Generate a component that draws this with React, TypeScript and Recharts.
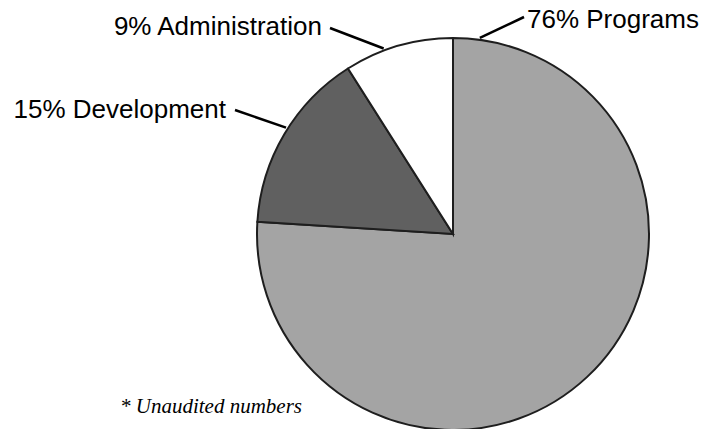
import React from 'react';
import { PieChart, Pie, Cell } from 'recharts';

const categories = ['Programs', 'Development', 'Administration'];
const shares = [76, 15, 9];
const colors = ['#a4a4a4', '#606060', '#ffffff'];

const footnote = '* Unaudited numbers';

const data = categories.map((name, i) => ({ name, value: shares[i] }));

// where each label's leader line touches the pie (deg clockwise from 12 o'clock),
// where the line ends and where the text sits
const labelLayout: Record<string, any> = {
  Programs: { angle: 7.8, end: [524, 17], tx: 527, ty: 28, anchor: 'start' },
  Development: { angle: -57.5, end: [235, 110], tx: 226, ty: 118, anchor: 'end' },
  Administration: { angle: -20.5, end: [330, 28], tx: 322, ty: 35, anchor: 'end' },
};

function renderLabel({ cx, cy, outerRadius, name, value }: any) {
  const l = labelLayout[name];
  const rad = (l.angle * Math.PI) / 180;
  const r = outerRadius + 2;
  const x0 = cx + r * Math.sin(rad);
  const y0 = cy - r * Math.cos(rad);
  return (
    <g>
      <line x1={x0} y1={y0} x2={l.end[0]} y2={l.end[1]} stroke='#000' strokeWidth={2.5} />
      <text
        x={l.tx}
        y={l.ty}
        textAnchor={l.anchor}
        fill='#000'
        style={{ font: '26px "Liberation Sans", Arial, sans-serif' }}>
        {`${value}% ${name}`}
      </text>
    </g>
  );
}

export default function App() {
  return (
    <div style={{ position: 'absolute', left: 0, top: 0, width: 708, height: 429, background: '#fff' }}>
      <PieChart width={708} height={429} margin={{ top: 0, right: 0, bottom: 0, left: 0 }}>
        <Pie
          data={data}
          dataKey='value'
          nameKey='name'
          cx={453}
          cy={234}
          outerRadius={196}
          startAngle={90}
          endAngle={-270}
          stroke='#1e1e1e'
          strokeWidth={2}
          label={renderLabel}
          labelLine={false}
          isAnimationActive={false}>
          {data.map((d, i) => (
            <Cell key={d.name} fill={colors[i]} />
          ))}
        </Pie>
      </PieChart>
      <svg width={708} height={429} style={{ position: 'absolute', left: 0, top: 0, pointerEvents: 'none' }}>
        <text
          x={120}
          y={413}
          fill='#000'
          style={{ font: 'italic 21px "Liberation Serif", "Times New Roman", serif' }}>
          {footnote}
        </text>
      </svg>
    </div>
  );
}
